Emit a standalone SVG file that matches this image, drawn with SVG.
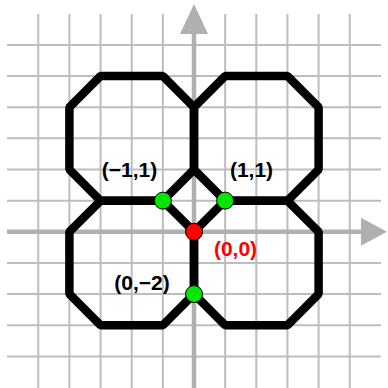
<svg xmlns="http://www.w3.org/2000/svg" width="388" height="388" viewBox="0 0 388 388">
<style>
.grid line{stroke:#bdbdbd;stroke-width:2}
.axis{stroke:#b0b0b0;stroke-width:4.5;fill:none}
.head{fill:#b0b0b0}
.oct{fill:none;stroke:#000;stroke-width:8.5;stroke-linejoin:bevel}
.dot{stroke:#000;stroke-width:1}
.lbl{font-family:"Liberation Sans",Arial,sans-serif;font-weight:bold;font-size:21px;text-anchor:middle}
</style>
<rect width="388" height="388" fill="#fff"/>
<g id="grid" class="grid">
<line x1="38.25" y1="14" x2="38.25" y2="388"/>
<line x1="69.4" y1="14" x2="69.4" y2="388"/>
<line x1="100.55" y1="14" x2="100.55" y2="388"/>
<line x1="131.7" y1="14" x2="131.7" y2="388"/>
<line x1="162.85" y1="14" x2="162.85" y2="388"/>
<line x1="225.15" y1="14" x2="225.15" y2="388"/>
<line x1="256.3" y1="14" x2="256.3" y2="388"/>
<line x1="287.45" y1="14" x2="287.45" y2="388"/>
<line x1="318.6" y1="14" x2="318.6" y2="388"/>
<line x1="349.75" y1="14" x2="349.75" y2="388"/>
<line x1="7" y1="44.9" x2="381" y2="44.9"/>
<line x1="7" y1="76.05" x2="381" y2="76.05"/>
<line x1="7" y1="107.2" x2="381" y2="107.2"/>
<line x1="7" y1="138.35" x2="381" y2="138.35"/>
<line x1="7" y1="169.5" x2="381" y2="169.5"/>
<line x1="7" y1="200.65" x2="381" y2="200.65"/>
<line x1="7" y1="262.95" x2="381" y2="262.95"/>
<line x1="7" y1="294.1" x2="381" y2="294.1"/>
<line x1="7" y1="325.25" x2="381" y2="325.25"/>
<line x1="7" y1="356.4" x2="381" y2="356.4"/>
</g>
<g id="axes">
<line class="axis" x1="7" y1="231.8" x2="363" y2="231.8"/>
<polygon class="head" points="387,231.8 361,217.8 361,245.8"/>
<line class="axis" x1="194" y1="388" x2="194" y2="32"/>
<polygon class="head" points="194,4 180,34 208,34"/>
</g>
<g id="connectors">
<polygon id="oct-ul" class="oct" points="162.85,76.05 100.55,76.05 69.4,107.2 69.4,169.5 100.55,200.65 162.85,200.65 194,169.5 194,107.2"/>
<polygon id="oct-ur" class="oct" points="225.15,76.05 287.45,76.05 318.6,107.2 318.6,169.5 287.45,200.65 225.15,200.65 194,169.5 194,107.2"/>
<polygon id="oct-ll" class="oct" points="162.85,200.65 100.55,200.65 69.4,231.8 69.4,294.1 100.55,325.25 162.85,325.25 194,294.1 194,231.8"/>
<polygon id="oct-lr" class="oct" points="225.15,200.65 287.45,200.65 318.6,231.8 318.6,294.1 287.45,325.25 225.15,325.25 194,294.1 194,231.8"/>
</g>
<g id="p-m1-1"><circle class="dot" cx="162.85" cy="200.65" r="8.5" fill="#00e600"/><text class="lbl" x="129.5" y="177">(−1,1)</text></g>
<g id="p-1-1"><circle class="dot" cx="225.15" cy="200.65" r="8.5" fill="#00e600"/><text class="lbl" x="251.5" y="177">(1,1)</text></g>
<g id="p-0-0"><circle class="dot" cx="194" cy="231.8" r="8.5" fill="#ff0000"/><text class="lbl" x="235.5" y="256" fill="#ff0000">(0,0)</text></g>
<g id="p-0-m2"><circle class="dot" cx="194" cy="294.1" r="8.5" fill="#00e600"/><text class="lbl" x="142" y="290">(0,−2)</text></g>
</svg>
